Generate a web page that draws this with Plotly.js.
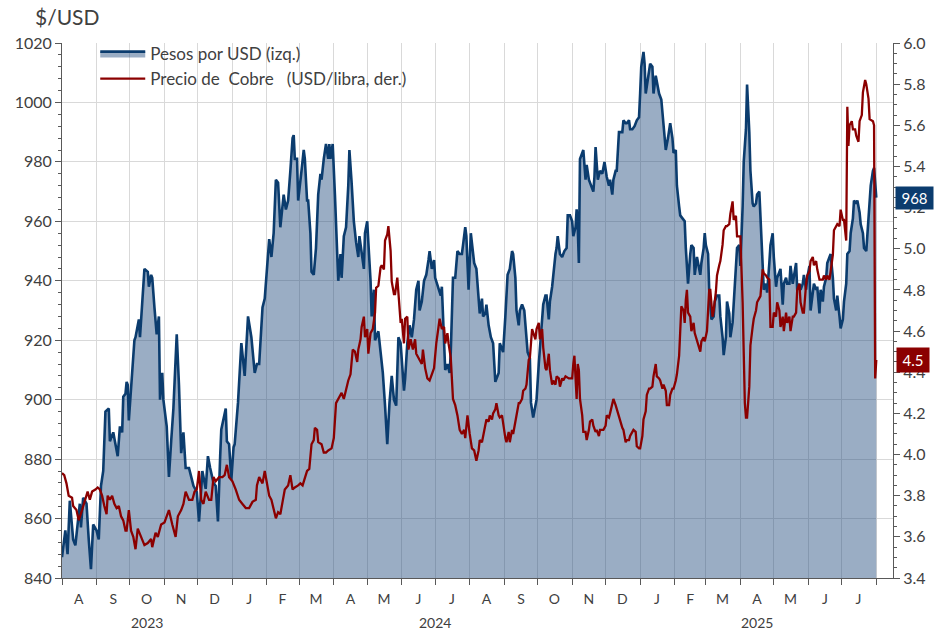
<!DOCTYPE html>
<html>
<head>
<meta charset="utf-8">
<script src="https://cdn.plot.ly/plotly-3.0.1.min.js"></script>
<style>html,body{margin:0;padding:0;background:#fff;}#chart{width:951px;height:632px;}</style>
</head>
<body>
<div id="chart"></div>
<script>
// ---- Pesos por USD (izq.) ----
const fxDates2023 = ["2023-08-01","2023-08-04","2023-08-06","2023-08-08","2023-08-11","2023-08-13","2023-08-17","2023-08-18","2023-08-20","2023-08-23","2023-08-25","2023-08-27","2023-08-29","2023-09-01","2023-09-03","2023-09-05","2023-09-07","2023-09-09","2023-09-12","2023-09-13","2023-09-16","2023-09-18","2023-09-20","2023-09-22","2023-09-24","2023-09-25","2023-09-27","2023-09-28","2023-09-29","2023-09-30","2023-10-03","2023-10-05","2023-10-06","2023-10-09","2023-10-10","2023-10-12","2023-10-14","2023-10-17","2023-10-18","2023-10-20","2023-10-21","2023-10-23","2023-10-25","2023-10-27","2023-10-28","2023-10-30","2023-10-31","2023-11-03","2023-11-05","2023-11-07","2023-11-09","2023-11-12","2023-11-14","2023-11-16","2023-11-18","2023-11-20","2023-11-23","2023-11-25","2023-11-27","2023-11-30","2023-12-02","2023-12-04","2023-12-05","2023-12-08","2023-12-10","2023-12-12","2023-12-15","2023-12-17","2023-12-19","2023-12-21","2023-12-22","2023-12-26","2023-12-27","2023-12-29","2023-12-31"];
const fxValues2023 = [847,856,848,866,853,851,865,857,867,865,853,843,858,856,853,871,876,896,897,886,889,885,881,891,889,901,902,906,905,893,910,920,921,927,921,933,944,943,938,942,941,931,922,928,900,909,900,891,874,886,897,922,905,882,889,877,877,874,871,869,859,870,876,870,881,877,872,871,859,881,890,897,886,885,873];

const fxDates2024a = ["2024-01-02","2024-01-03","2024-01-06","2024-01-09","2024-01-12","2024-01-15","2024-01-18","2024-01-21","2024-01-23","2024-01-25","2024-01-28","2024-01-30","2024-02-02","2024-02-03","2024-02-05","2024-02-07","2024-02-09","2024-02-11","2024-02-13","2024-02-14","2024-02-16","2024-02-18","2024-02-20","2024-02-22","2024-02-24","2024-02-25","2024-02-26","2024-02-28","2024-02-29","2024-03-03","2024-03-05","2024-03-06","2024-03-08","2024-03-09","2024-03-11","2024-03-12","2024-03-14","2024-03-16","2024-03-18","2024-03-20","2024-03-21","2024-03-23","2024-03-25","2024-03-27","2024-03-28","2024-03-29","2024-03-31","2024-04-02","2024-04-04","2024-04-05","2024-04-07","2024-04-08","2024-04-10","2024-04-12","2024-04-14","2024-04-15","2024-04-17","2024-04-19","2024-04-21","2024-04-23","2024-04-24","2024-04-26","2024-04-28","2024-04-29","2024-05-01","2024-05-02","2024-05-04","2024-05-05","2024-05-07","2024-05-08","2024-05-11","2024-05-13","2024-05-15","2024-05-17","2024-05-19","2024-05-21","2024-05-23","2024-05-25","2024-05-27","2024-05-29","2024-05-31","2024-06-03","2024-06-04","2024-06-06","2024-06-08","2024-06-10","2024-06-12","2024-06-14","2024-06-16","2024-06-17","2024-06-19","2024-06-21","2024-06-23","2024-06-25","2024-06-26","2024-06-28","2024-06-30"];
const fxValues2024a = [884,885,899,919,908,928,921,909,912,912,931,934,949,954,948,956,974,973,958,962,969,964,967,977,988,989,981,981,967,977,984,981,967,967,956,943,942,951,969,976,974,981,986,981,986,981,986,969,950,940,949,941,955,958,972,984,973,960,953,948,955,949,944,956,960,953,940,928,937,920,923,916,909,898,885,899,908,900,898,921,919,903,907,919,925,921,927,937,940,930,933,940,942,947,950,944,947];

const fxDates2024b = ["2024-07-01","2024-07-04","2024-07-06","2024-07-07","2024-07-09","2024-07-10","2024-07-12","2024-07-14","2024-07-15","2024-07-17","2024-07-19","2024-07-21","2024-07-23","2024-07-25","2024-07-26","2024-07-28","2024-07-29","2024-07-31","2024-08-02","2024-08-05","2024-08-07","2024-08-09","2024-08-10","2024-08-12","2024-08-13","2024-08-15","2024-08-16","2024-08-18","2024-08-20","2024-08-22","2024-08-24","2024-08-25","2024-08-27","2024-08-28","2024-08-31","2024-09-02","2024-09-04","2024-09-06","2024-09-08","2024-09-09","2024-09-11","2024-09-12","2024-09-14","2024-09-15","2024-09-17","2024-09-19","2024-09-21","2024-09-22","2024-09-24","2024-09-25","2024-09-27","2024-09-29","2024-09-30","2024-10-02","2024-10-04","2024-10-06","2024-10-08","2024-10-09","2024-10-11","2024-10-12","2024-10-14","2024-10-15","2024-10-17","2024-10-18","2024-10-19","2024-10-21","2024-10-23","2024-10-25","2024-10-27","2024-10-28","2024-10-30","2024-11-01","2024-11-02","2024-11-04","2024-11-05","2024-11-06","2024-11-07","2024-11-08","2024-11-11","2024-11-13","2024-11-14","2024-11-16","2024-11-18","2024-11-20","2024-11-21","2024-11-22","2024-11-24","2024-11-26","2024-11-28","2024-11-30","2024-12-02","2024-12-04","2024-12-05","2024-12-07","2024-12-08","2024-12-10","2024-12-11","2024-12-13","2024-12-16","2024-12-17","2024-12-19","2024-12-20","2024-12-22","2024-12-23","2024-12-25","2024-12-27","2024-12-29","2024-12-31"];
const fxValues2024b = [941,937,935,938,921,910,912,909,916,941,941,950,949,949,952,958,955,937,956,946,944,934,929,934,928,929,932,925,921,919,906,907,909,919,916,928,942,944,950,949,941,930,925,930,932,930,921,916,914,899,894,899,900,912,921,932,935,935,927,933,938,942,949,951,955,949,948,950,951,962,962,960,955,958,964,958,946,981,984,974,979,974,972,970,975,985,974,977,976,980,975,972,974,969,974,977,977,990,990,994,993,993,994,991,991,992,994,995];

const fxDates2025 = ["2025-01-01","2025-01-02","2025-01-04","2025-01-05","2025-01-06","2025-01-08","2025-01-10","2025-01-12","2025-01-13","2025-01-15","2025-01-16","2025-01-18","2025-01-20","2025-01-22","2025-01-24","2025-01-26","2025-01-28","2025-01-30","2025-01-31","2025-02-02","2025-02-03","2025-02-05","2025-02-06","2025-02-08","2025-02-10","2025-02-11","2025-02-13","2025-02-15","2025-02-16","2025-02-18","2025-02-19","2025-02-21","2025-02-22","2025-02-24","2025-02-25","2025-02-27","2025-02-28","2025-03-01","2025-03-03","2025-03-04","2025-03-06","2025-03-08","2025-03-09","2025-03-11","2025-03-13","2025-03-14","2025-03-16","2025-03-17","2025-03-19","2025-03-20","2025-03-22","2025-03-23","2025-03-25","2025-03-26","2025-03-28","2025-03-29","2025-03-31","2025-04-01","2025-04-03","2025-04-04","2025-04-06","2025-04-07","2025-04-09","2025-04-10","2025-04-12","2025-04-13","2025-04-15","2025-04-16","2025-04-18","2025-04-19","2025-04-21","2025-04-22","2025-04-24","2025-04-25","2025-04-27","2025-04-28","2025-04-30","2025-05-01","2025-05-03","2025-05-04","2025-05-06","2025-05-07","2025-05-09","2025-05-10","2025-05-12","2025-05-13","2025-05-15","2025-05-16","2025-05-18","2025-05-19","2025-05-21","2025-05-22","2025-05-24","2025-05-25","2025-05-27","2025-05-28","2025-05-30","2025-05-31","2025-06-02","2025-06-03","2025-06-05","2025-06-06","2025-06-08","2025-06-09","2025-06-11","2025-06-12","2025-06-14","2025-06-15","2025-06-17","2025-06-18","2025-06-20","2025-06-21","2025-06-23","2025-06-24","2025-06-26","2025-06-27","2025-06-29","2025-06-30","2025-07-02","2025-07-03","2025-07-05","2025-07-06","2025-07-08","2025-07-09","2025-07-11","2025-07-12","2025-07-14","2025-07-15","2025-07-17","2025-07-18","2025-07-20","2025-07-21","2025-07-23","2025-07-24","2025-07-26","2025-07-27","2025-07-29","2025-07-30","2025-08-01"];
const fxValues2025 = [1003,1012,1017,1013,1003,1008,1013,1012,1003,1009,1007,1003,1001,991,984,988,993,988,983,984,972,965,962,961,960,951,939,949,952,951,942,948,946,942,946,951,956,952,949,937,927,928,933,935,935,928,921,915,921,933,929,921,926,933,946,951,952,945,965,980,991,1006,990,977,966,965,966,969,970,961,946,937,939,936,946,952,956,948,938,941,943,944,932,939,941,939,939,945,939,942,946,937,939,937,939,942,937,941,945,930,936,939,937,938,929,937,933,938,941,946,948,949,941,934,930,935,928,924,927,933,939,949,950,956,961,967,966,967,963,959,956,951,950,956,970,972,977,978,968];

// ---- Precio de Cobre (USD/libra, der.) ----
const cuDates2023 = ["2023-08-01","2023-08-03","2023-08-05","2023-08-07","2023-08-10","2023-08-11","2023-08-14","2023-08-16","2023-08-19","2023-08-22","2023-08-24","2023-08-26","2023-08-28","2023-08-31","2023-09-02","2023-09-04","2023-09-06","2023-09-08","2023-09-10","2023-09-11","2023-09-13","2023-09-15","2023-09-17","2023-09-19","2023-09-21","2023-09-23","2023-09-25","2023-09-27","2023-09-28","2023-09-30","2023-10-02","2023-10-04","2023-10-06","2023-10-08","2023-10-11","2023-10-14","2023-10-17","2023-10-20","2023-10-21","2023-10-24","2023-10-26","2023-10-29","2023-11-01","2023-11-03","2023-11-05","2023-11-08","2023-11-11","2023-11-13","2023-11-16","2023-11-18","2023-11-20","2023-11-23","2023-11-26","2023-11-28","2023-11-30","2023-12-02","2023-12-04","2023-12-06","2023-12-08","2023-12-11","2023-12-13","2023-12-15","2023-12-17","2023-12-20","2023-12-23","2023-12-25","2023-12-27","2023-12-29"];
const cuValues2023 = [3.91,3.90,3.86,3.80,3.79,3.75,3.73,3.68,3.73,3.78,3.82,3.78,3.82,3.83,3.84,3.83,3.80,3.75,3.71,3.80,3.78,3.80,3.76,3.74,3.75,3.70,3.68,3.63,3.63,3.73,3.63,3.60,3.54,3.64,3.60,3.56,3.57,3.59,3.55,3.62,3.60,3.66,3.67,3.70,3.73,3.66,3.60,3.70,3.73,3.76,3.82,3.78,3.78,3.82,3.83,3.92,3.78,3.76,3.82,3.78,3.78,3.89,3.87,3.89,3.89,3.90,3.95,3.89];

const cuDates2024a = ["2024-01-01","2024-01-04","2024-01-07","2024-01-10","2024-01-13","2024-01-16","2024-01-19","2024-01-22","2024-01-23","2024-01-25","2024-01-28","2024-01-30","2024-02-01","2024-02-03","2024-02-05","2024-02-07","2024-02-09","2024-02-11","2024-02-13","2024-02-15","2024-02-17","2024-02-20","2024-02-22","2024-02-24","2024-02-26","2024-02-29","2024-03-02","2024-03-04","2024-03-06","2024-03-08","2024-03-10","2024-03-12","2024-03-14","2024-03-15","2024-03-17","2024-03-18","2024-03-21","2024-03-23","2024-03-25","2024-03-27","2024-03-30","2024-04-01","2024-04-03","2024-04-05","2024-04-07","2024-04-08","2024-04-10","2024-04-12","2024-04-14","2024-04-16","2024-04-18","2024-04-20","2024-04-22","2024-04-23","2024-04-25","2024-04-26","2024-04-28","2024-04-29","2024-05-01","2024-05-02","2024-05-04","2024-05-06","2024-05-08","2024-05-09","2024-05-11","2024-05-13","2024-05-14","2024-05-16","2024-05-17","2024-05-19","2024-05-20","2024-05-22","2024-05-23","2024-05-25","2024-05-26","2024-05-28","2024-05-29","2024-05-31","2024-06-01","2024-06-03","2024-06-04","2024-06-06","2024-06-07","2024-06-09","2024-06-11","2024-06-13","2024-06-14","2024-06-16","2024-06-19","2024-06-20","2024-06-22","2024-06-24","2024-06-26","2024-06-28","2024-06-30"];
const cuValues2024a = [3.87,3.83,3.78,3.76,3.74,3.74,3.77,3.78,3.85,3.89,3.86,3.92,3.86,3.80,3.78,3.73,3.69,3.72,3.71,3.77,3.83,3.85,3.90,3.83,3.84,3.85,3.86,3.85,3.88,3.92,3.93,4.05,4.07,4.13,4.12,4.06,4.05,4.01,4.01,4.02,4.03,4.08,4.25,4.27,4.29,4.30,4.27,4.32,4.36,4.39,4.51,4.50,4.45,4.51,4.56,4.62,4.67,4.57,4.61,4.49,4.59,4.61,4.69,4.81,4.82,4.91,4.92,4.90,5.04,5.07,5.11,4.99,4.84,4.78,4.78,4.86,4.78,4.64,4.66,4.54,4.66,4.67,4.51,4.56,4.51,4.56,4.49,4.47,4.44,4.51,4.42,4.37,4.36,4.39,4.42];

const cuDates2024b = ["2024-07-02","2024-07-04","2024-07-05","2024-07-07","2024-07-09","2024-07-10","2024-07-12","2024-07-13","2024-07-15","2024-07-17","2024-07-19","2024-07-21","2024-07-23","2024-07-25","2024-07-27","2024-07-28","2024-07-30","2024-08-01","2024-08-03","2024-08-05","2024-08-07","2024-08-09","2024-08-10","2024-08-12","2024-08-13","2024-08-15","2024-08-16","2024-08-18","2024-08-19","2024-08-21","2024-08-22","2024-08-24","2024-08-25","2024-08-27","2024-08-28","2024-08-30","2024-08-31","2024-09-02","2024-09-03","2024-09-05","2024-09-06","2024-09-08","2024-09-09","2024-09-11","2024-09-12","2024-09-14","2024-09-15","2024-09-17","2024-09-18","2024-09-20","2024-09-21","2024-09-23","2024-09-24","2024-09-26","2024-09-27","2024-09-29","2024-09-30","2024-10-02","2024-10-03","2024-10-05","2024-10-06","2024-10-08","2024-10-09","2024-10-11","2024-10-12","2024-10-14","2024-10-15","2024-10-17","2024-10-18","2024-10-20","2024-10-21","2024-10-23","2024-10-24","2024-10-26","2024-10-29","2024-11-01","2024-11-02","2024-11-03","2024-11-05","2024-11-06","2024-11-07","2024-11-08","2024-11-10","2024-11-11","2024-11-13","2024-11-14","2024-11-16","2024-11-17","2024-11-19","2024-11-20","2024-11-22","2024-11-23","2024-11-25","2024-11-26","2024-11-29","2024-12-01","2024-12-02","2024-12-04","2024-12-05","2024-12-07","2024-12-08","2024-12-10","2024-12-11","2024-12-13","2024-12-14","2024-12-16","2024-12-17","2024-12-19","2024-12-20","2024-12-22","2024-12-23","2024-12-25","2024-12-26","2024-12-28","2024-12-29","2024-12-31"];
const cuValues2024b = [4.54,4.61,4.66,4.61,4.62,4.54,4.59,4.54,4.47,4.27,4.24,4.19,4.12,4.10,4.12,4.08,4.19,4.10,4.03,4.02,3.97,4.02,4.07,4.06,4.09,4.15,4.17,4.16,4.19,4.17,4.20,4.22,4.25,4.19,4.18,4.19,4.15,4.08,4.06,4.11,4.06,4.12,4.10,4.17,4.19,4.25,4.25,4.27,4.31,4.32,4.34,4.46,4.47,4.61,4.59,4.56,4.61,4.64,4.56,4.61,4.52,4.42,4.41,4.49,4.41,4.34,4.36,4.34,4.38,4.37,4.33,4.37,4.36,4.38,4.37,4.37,4.44,4.48,4.27,4.44,4.41,4.27,4.19,4.11,4.11,4.07,4.12,4.16,4.17,4.14,4.11,4.12,4.09,4.12,4.12,4.14,4.19,4.18,4.20,4.26,4.27,4.24,4.22,4.18,4.16,4.13,4.12,4.06,4.07,4.07,4.09,4.11,4.12,4.11,4.04,4.03];

const cuDates2025 = ["2025-01-01","2025-01-03","2025-01-04","2025-01-06","2025-01-07","2025-01-09","2025-01-10","2025-01-12","2025-01-13","2025-01-15","2025-01-16","2025-01-18","2025-01-19","2025-01-21","2025-01-22","2025-01-24","2025-01-25","2025-01-27","2025-01-28","2025-01-30","2025-01-31","2025-02-02","2025-02-03","2025-02-05","2025-02-07","2025-02-09","2025-02-10","2025-02-11","2025-02-12","2025-02-13","2025-02-15","2025-02-16","2025-02-18","2025-02-19","2025-02-21","2025-02-22","2025-02-24","2025-02-25","2025-02-27","2025-02-28","2025-03-02","2025-03-04","2025-03-05","2025-03-07","2025-03-08","2025-03-10","2025-03-11","2025-03-13","2025-03-14","2025-03-16","2025-03-17","2025-03-19","2025-03-20","2025-03-22","2025-03-23","2025-03-25","2025-03-26","2025-03-28","2025-03-29","2025-03-31","2025-04-01","2025-04-03","2025-04-04","2025-04-05","2025-04-06","2025-04-07","2025-04-09","2025-04-10","2025-04-12","2025-04-13","2025-04-15","2025-04-16","2025-04-18","2025-04-19","2025-04-21","2025-04-22","2025-04-24","2025-04-25","2025-04-27","2025-04-28","2025-04-30","2025-05-01","2025-05-03","2025-05-04","2025-05-06","2025-05-07","2025-05-09","2025-05-10","2025-05-12","2025-05-13","2025-05-15","2025-05-16","2025-05-18","2025-05-19","2025-05-21","2025-05-22","2025-05-24","2025-05-25","2025-05-27","2025-05-28","2025-05-30","2025-05-31","2025-06-02","2025-06-03","2025-06-05","2025-06-06","2025-06-08","2025-06-09","2025-06-11","2025-06-14","2025-06-15","2025-06-17","2025-06-18","2025-06-20","2025-06-21","2025-06-23","2025-06-24","2025-06-26","2025-06-27","2025-06-29","2025-06-30","2025-07-02","2025-07-03","2025-07-05","2025-07-06","2025-07-07","2025-07-08","2025-07-10","2025-07-11","2025-07-13","2025-07-14","2025-07-16","2025-07-17","2025-07-19","2025-07-20","2025-07-22","2025-07-23","2025-07-25","2025-07-26","2025-07-29","2025-07-30","2025-07-31","2025-08-01"];
const cuValues2025 = [4.03,4.09,4.17,4.21,4.29,4.32,4.32,4.33,4.38,4.44,4.38,4.37,4.36,4.32,4.34,4.31,4.24,4.24,4.29,4.32,4.32,4.36,4.39,4.48,4.72,4.70,4.64,4.75,4.80,4.69,4.67,4.60,4.64,4.59,4.55,4.53,4.50,4.55,4.57,4.55,4.60,4.80,4.80,4.67,4.70,4.79,4.87,4.92,4.94,5.02,5.09,5.11,5.11,5.12,5.17,5.23,5.14,5.16,5.06,5.06,5.06,4.74,4.42,4.25,4.18,4.18,4.33,4.53,4.62,4.66,4.70,4.74,4.76,4.77,4.90,4.88,4.87,4.86,4.85,4.62,4.62,4.69,4.67,4.74,4.70,4.62,4.67,4.60,4.69,4.64,4.67,4.60,4.67,4.67,4.69,4.80,4.83,4.74,4.69,4.69,4.83,4.87,4.89,4.94,4.96,4.92,4.94,4.90,4.85,4.85,4.87,4.85,4.87,4.85,4.89,4.97,5.09,5.11,5.12,5.11,5.19,5.14,5.14,5.04,5.69,5.50,5.60,5.62,5.58,5.58,5.55,5.52,5.62,5.65,5.76,5.82,5.80,5.73,5.63,5.62,5.60,4.37,4.46];

// ---- Axis labels ----
const monthStarts = ["2023-08-01","2023-09-01","2023-10-01","2023-11-01","2023-12-01","2024-01-01","2024-02-01","2024-03-01","2024-04-01","2024-05-01","2024-06-01","2024-07-01","2024-08-01","2024-09-01","2024-10-01","2024-11-01","2024-12-01","2025-01-01","2025-02-01","2025-03-01","2025-04-01","2025-05-01","2025-06-01","2025-07-01","2025-08-01"];
const monthMids = ["2023-08-16","2023-09-16","2023-10-16","2023-11-16","2023-12-16","2024-01-16","2024-02-15","2024-03-16","2024-04-16","2024-05-16","2024-06-16","2024-07-16","2024-08-16","2024-09-16","2024-10-16","2024-11-16","2024-12-16","2025-01-16","2025-02-15","2025-03-16","2025-04-16","2025-05-16","2025-06-16","2025-07-16"];
const monthLetters = ["A","S","O","N","D","J","F","M","A","M","J","J","A","S","O","N","D","J","F","M","A","M","J","J"];
const yearLabels = ["2023","2024","2025"];
const yearCenters = ["2023-10-16","2024-07-01","2025-04-16"];

const fxDates = [].concat(fxDates2023, fxDates2024a, fxDates2024b, fxDates2025);
const fxValues = [].concat(fxValues2023, fxValues2024a, fxValues2024b, fxValues2025);
const cuDates = [].concat(cuDates2023, cuDates2024a, cuDates2024b, cuDates2025);
const cuValues = [].concat(cuValues2023, cuValues2024a, cuValues2024b, cuValues2025);

const FONT = 'Lato, "Open Sans", "DejaVu Sans", sans-serif';
const TXT = '#404040';
const AX = '#595959';
const GRID = '#d9d9d9';
const BLUE = '#0b3c6e';
const RED = '#8b0000';

const traces = [
  {
    x: fxDates, y: fxValues, type: 'scatter', mode: 'lines',
    name: 'Pesos por USD (izq.)',
    line: {color: BLUE, width: 2.6},
    fill: 'tozeroy', fillcolor: 'rgba(31,73,125,0.45)',
    yaxis: 'y', hoverinfo: 'skip'
  },
  {
    x: cuDates, y: cuValues, type: 'scatter', mode: 'lines',
    name: 'Precio de\u00a0 Cobre\u00a0\u00a0 (USD/libra, der.)',
    line: {color: RED, width: 2.3},
    yaxis: 'y2', hoverinfo: 'skip'
  }
];

const annotations = yearLabels.map((t, i) => ({
  x: yearCenters[i], xref: 'x', y: 0, yref: 'paper',
  yanchor: 'top', yshift: -34, text: t, showarrow: false,
  font: {family: FONT, size: 14, color: TXT}
}));
annotations.push({
  x: 1, xref: 'paper', xanchor: 'left', xshift: 2,
  y: fxValues[fxValues.length - 1], yref: 'y',
  text: String(Math.round(fxValues[fxValues.length - 1])),
  showarrow: false, bgcolor: BLUE, width: 35, height: 20,
  font: {family: FONT, size: 15, color: '#ffffff'}
});
annotations.push({
  x: 1, xref: 'paper', xanchor: 'left', xshift: 3,
  y: cuValues[cuValues.length - 1], yref: 'y2',
  text: cuValues[cuValues.length - 1].toFixed(1),
  showarrow: false, bgcolor: RED, width: 30, height: 22,
  font: {family: FONT, size: 15, color: '#ffffff'}
});

const layout = {
  width: 951, height: 632,
  margin: {l: 62, r: 58, t: 43, b: 54, pad: 0},
  paper_bgcolor: '#ffffff', plot_bgcolor: '#ffffff',
  font: {family: FONT, color: TXT},
  showlegend: true,
  legend: {
    x: 0.04, y: 1.013, xanchor: 'left', yanchor: 'top',
    bgcolor: 'rgba(0,0,0,0)', itemwidth: 45,
    font: {family: FONT, size: 17, color: TXT}
  },
  title: {
    text: '$/USD', x: 35 / 951, xanchor: 'left', xref: 'container',
    y: 1 - 18 / 632, yanchor: 'middle', yref: 'container',
    font: {family: FONT, size: 21, color: TXT}
  },
  xaxis: {
    type: 'date', range: ['2023-08-01', '2025-08-16'],
    tickmode: 'array', tickvals: monthMids, ticktext: monthLetters,
    ticks: '', showgrid: false, zeroline: false,
    showline: true, linecolor: AX, linewidth: 1,
    ticklabelstandoff: 8,
    tickfont: {family: FONT, size: 14, color: TXT},
    minor: {
      tickmode: 'array', tickvals: monthStarts,
      ticks: 'outside', ticklen: 6, tickcolor: AX, tickwidth: 1,
      showgrid: true, gridcolor: GRID, gridwidth: 1
    }
  },
  yaxis: {
    range: [840, 1020], dtick: 20, tick0: 840,
    ticks: 'outside', ticklen: 6, tickcolor: AX,
    showline: true, linecolor: AX, linewidth: 1,
    showgrid: true, gridcolor: GRID, gridwidth: 1, zeroline: false,
    tickfont: {family: FONT, size: 16, color: TXT},
    minor: {dtick: 4, tick0: 840, ticks: 'outside', ticklen: 3, tickcolor: AX, showgrid: false}
  },
  yaxis2: {
    range: [3.4, 6.0], dtick: 0.2, tick0: 3.4, tickformat: '.1f',
    overlaying: 'y', side: 'right',
    ticks: 'outside', ticklen: 6, tickcolor: AX,
    showline: true, linecolor: AX, linewidth: 1,
    showgrid: false, zeroline: false,
    tickfont: {family: FONT, size: 16, color: TXT},
    minor: {dtick: 0.05, tick0: 3.4, ticks: 'outside', ticklen: 3, tickcolor: AX, showgrid: false}
  },
  annotations: annotations
};

Plotly.newPlot('chart', traces, layout, {displayModeBar: false, staticPlot: true});
</script>
</body>
</html>
